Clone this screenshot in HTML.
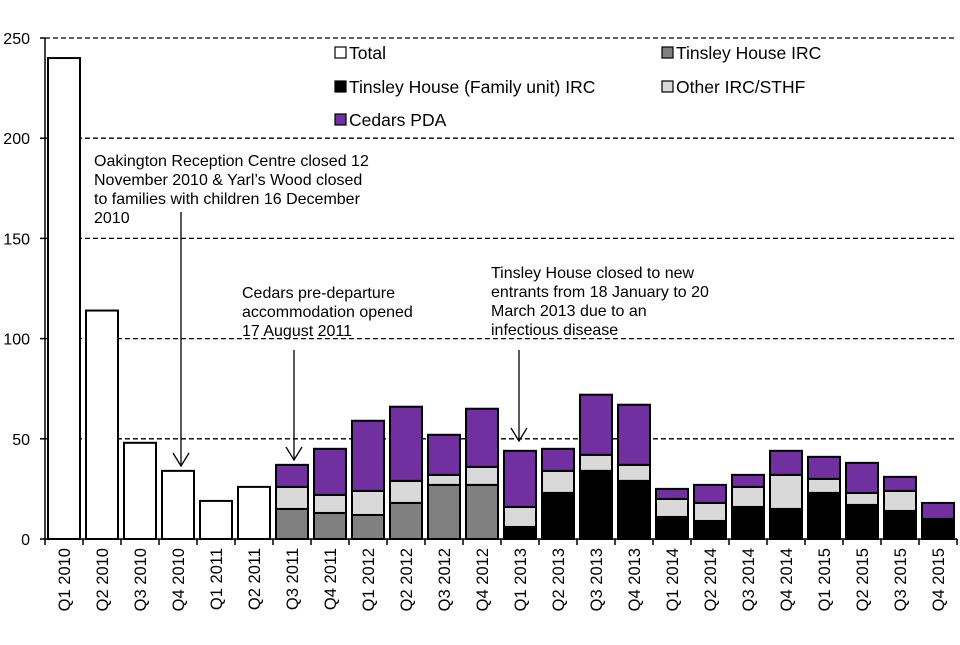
<!DOCTYPE html>
<html><head><meta charset="utf-8"><style>
body{margin:0;background:#fff}
svg text{font-family:"Liberation Sans",Arial,sans-serif;fill:#000}
</style></head><body>
<svg id="c" width="960" height="640" xmlns="http://www.w3.org/2000/svg"></svg>
<script>
const categories=["Q1 2010","Q2 2010","Q3 2010","Q4 2010","Q1 2011","Q2 2011","Q3 2011","Q4 2011","Q1 2012","Q2 2012","Q3 2012","Q4 2012","Q1 2013","Q2 2013","Q3 2013","Q4 2013","Q1 2014","Q2 2014","Q3 2014","Q4 2014","Q1 2015","Q2 2015","Q3 2015","Q4 2015"];
const total=[240,114,48,34,19,26,0,0,0,0,0,0,0,0,0,0,0,0,0,0,0,0,0,0];
const tinsley=[0,0,0,0,0,0,15,13,12,18,27,27,0,0,0,0,0,0,0,0,0,0,0,0];
const family=[0,0,0,0,0,0,0,0,0,0,0,0,6,23,34,29,11,9,16,15,23,17,14,9];
const other=[0,0,0,0,0,0,11,9,12,11,5,9,10,11,8,8,9,9,10,17,7,6,10,1];
const cedars=[0,0,0,0,0,0,11,23,35,37,20,29,28,11,30,30,5,9,6,12,11,15,7,8];
const yTicks=[0,50,100,150,200,250];
const NS="http://www.w3.org/2000/svg",svg=document.getElementById('c');
function el(t,a,p){const e=document.createElementNS(NS,t);for(const k in a)e.setAttribute(k,a[k]);(p||svg).appendChild(e);return e;}
const x0=45,x1=957,y0=539,yTop=38;
const y=v=>y0-(v/250)*(y0-yTop);
const step=(x1-x0)/categories.length;
const cx=i=>x0+step*(i+0.5);
const bw=32;
yTicks.forEach(t=>{
 if(t>0){const g=el('line',{x1:x0,x2:x1,y1:y(t),y2:y(t),stroke:'#000','stroke-width':1.3,'stroke-dasharray':'5,3'});
 }
 const tl=el('text',{x:30,y:y(t)+6,'text-anchor':'end','font-size':16});tl.textContent=t;
 
 el('line',{x1:x0-5,x2:x0,y1:y(t),y2:y(t),stroke:'#000','stroke-width':1.5});
});
const series=[[total,'#fff','total'],[tinsley,'#808080','tinsley'],[family,'#000','family'],[other,'#d9d9d9','other'],[cedars,'#7030a0','cedars']];
categories.forEach((c,i)=>{
 let base=0;
 series.forEach(([arr,col,nm])=>{
  const v=arr[i];if(!v)return;
  const r=el('rect',{x:cx(i)-bw/2,y:y(base+v),width:bw,height:y(base)-y(base+v),fill:col,stroke:'#000','stroke-width':2});
  
  base+=v;
 });
 const t=el('text',{transform:`translate(${cx(i)+6},548) rotate(-90)`,'text-anchor':'end','font-size':16.5});t.textContent=c;
 
});
for(let i=0;i<=categories.length;i++)el('line',{x1:x0+step*i,x2:x0+step*i,y1:y0,y2:y0+6,stroke:'#000','stroke-width':1.5});
el('line',{x1:x0,x2:x0,y1:yTop,y2:y0,stroke:'#000','stroke-width':1.5});
el('line',{x1:x0,x2:x1,y1:y0,y2:y0,stroke:'#000','stroke-width':1.5});
[[340,53,'#fff','Total'],[667,53,'#808080','Tinsley House IRC'],[340,87,'#000','Tinsley House (Family unit) IRC'],[667,87,'#d9d9d9','Other IRC/STHF'],[340,120,'#7030a0','Cedars PDA']].forEach(([lx,ly,col,lab])=>{
 const g=el('g',{});
 el('rect',{x:lx-5,y:ly-6,width:11,height:11,fill:col,stroke:'#000','stroke-width':1.2},g);
 const t=el('text',{x:lx+9,y:ly+6,'font-size':17.5},g);t.textContent=lab;
});
function note(lines,tx,ty,ax,ay1,ay2,nm){
 const g=el('g',{});
 lines.forEach((l,k)=>{const t=el('text',{x:tx,y:ty+k*19,'font-size':16},g);t.textContent=l;});
 el('line',{x1:ax,x2:ax,y1:ay1,y2:ay2,stroke:'#000','stroke-width':1.3},g);
 el('path',{d:`M${ax-8},${ay2-13} L${ax},${ay2} L${ax+8},${ay2-13}`,fill:'none',stroke:'#000','stroke-width':1.3},g);
}
note(["Oakington Reception Centre closed 12","November 2010 & Yarl’s Wood closed","to families with children 16 December","2010"],94,166,181,212,466,'annotation-oakington');
note(["Cedars pre-departure","accommodation  opened","17 August 2011"],242,298,294,350,460,'annotation-cedars');
note(["Tinsley House closed to new","entrants from 18 January to 20","March 2013 due to an","infectious disease"],491,278,519,350,441,'annotation-tinsley');
</script>
</body></html>
